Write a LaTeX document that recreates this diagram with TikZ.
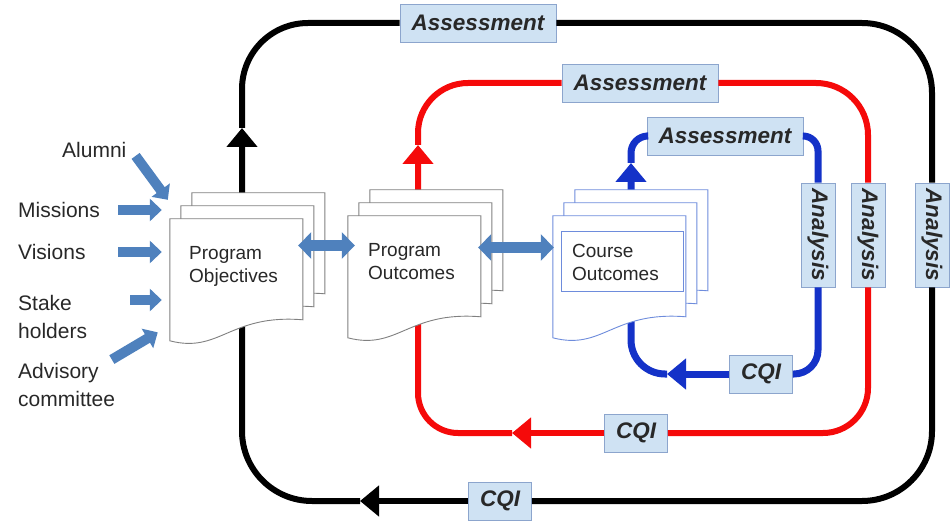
\documentclass[tikz,border=0pt]{standalone}
\usepackage{fontspec}
\setmainfont{Liberation Sans}
\usetikzlibrary{positioning,arrows.meta}

\definecolor{boxfill}{RGB}{207,226,243}
\definecolor{boxedge}{RGB}{140,165,205}
\definecolor{loopred}{RGB}{245,10,10}
\definecolor{loopblue}{RGB}{20,50,200}
\definecolor{pageblue}{RGB}{110,140,220}
\definecolor{steel}{RGB}{79,129,189}
\definecolor{inkgray}{RGB}{40,40,40}

\tikzset{
  tag/.style={draw=boxedge, fill=boxfill, line width=0.8pt, inner sep=0pt,
    text=inkgray, font=\fontsize{22.5}{26}\selectfont\bfseries\itshape},
  asmtag/.style={tag, minimum width=156pt, minimum height=38pt},
  cqitag/.style={tag, minimum width=63pt, minimum height=38pt},
  anatag/.style={tag, minimum width=34pt, minimum height=104pt},
  src/.style={align=left, anchor=west, inner sep=2pt, text=inkgray,
    font=\fontsize{21}{28}\selectfont},
  docnode/.style={minimum width=133pt, minimum height=123pt, inner sep=0pt},
  doctext/.style={align=left, anchor=west, inner sep=0pt, text=inkgray,
    font=\fontsize{19}{23}\selectfont},
  blackloop/.style={line width=6pt, black},
  redloop/.style={line width=6pt, loopred},
  blueloop/.style={line width=7pt, loopblue},
  looptip/.style={-{Triangle[width=30pt,length=19pt]}},
  inarrow/.style={line width=10pt, steel, -{Triangle[width=22pt,length=12pt]}},
  linkarrow/.style={line width=11pt, steel,
    {Triangle[width=26pt,length=13pt]}-{Triangle[width=26pt,length=13pt]}},
}

% one sheet of a stack, shifted by (#1,#2), outline colour #3
\newcommand{\docpage}[3]{%
  \draw[#3, fill=white, line width=0.9pt, shift={(#1,#2)}]
    (0,0) -- (133,0) -- (133,101) .. controls (60,95) and (50,135) .. (0,122) -- cycle;}
% three sheets behind the node #1
\newcommand{\docstack}[2]{%
  \begin{scope}[shift={(#1.north west)}]
    \docpage{22}{-26}{#2}
    \docpage{11}{-13}{#2}
    \docpage{0}{0}{#2}
  \end{scope}}

\begin{document}
\begin{tikzpicture}[x=1pt, y=-1pt]
  \useasboundingbox (0,0) rectangle (952,521);

  % Tags on the three loops
  \node[asmtag] (asmB) at (478,23) {Assessment};
  \node[asmtag] (asmR) at (640,83) {Assessment};
  \node[asmtag] (asmU) at (725,136) {Assessment};
  \node[anatag] (anaB) at (932,235) {\rotatebox{-90}{Analysis}};
  \node[anatag] (anaR) at (868,235) {\rotatebox{-90}{Analysis}};
  \node[anatag] (anaU) at (818,235) {\rotatebox{-90}{Analysis}};
  \node[cqitag] (cqiB) at (500,501) {CQI};
  \node[cqitag] (cqiR) at (636,433) {CQI};
  \node[cqitag] (cqiU) at (761,374) {CQI};

  % Documents
  \node[docnode] (objF) at (236.5,280.5) {};
  \node[docnode] (outF) at (414.5,277.5) {};
  \node[docnode] (crsF) at (619.5,277.5) {};

  % Arrow points on the loops
  \coordinate (bArrB) at (360,501);
  \coordinate (bArrL) at (242,128);
  \coordinate (rArrB) at (512,433);
  \coordinate (rArrL) at (418,145);
  \coordinate (uArrB) at (667,374);
  \coordinate (uArrT) at (631,163);

  % Black loop
  \draw[blackloop, rounded corners=70pt] (asmB.east) -| (anaB.north);
  \draw[blackloop, rounded corners=70pt] (anaB.south) |- (cqiB.east);
  \draw[blackloop, looptip] (cqiB.west) -- (bArrB);
  \draw[blackloop, looptip, rounded corners=70pt] (bArrB) -| (bArrL);
  \draw[blackloop, rounded corners=66pt] (bArrL) |- (asmB.west);

  % Red loop
  \draw[redloop, rounded corners=52pt] (asmR.east) -| (anaR.north);
  \draw[redloop, rounded corners=45pt] (anaR.south) |- (cqiR.east);
  \draw[redloop, looptip] (cqiR.west) -- (rArrB);
  \draw[redloop, looptip, rounded corners=40pt] (rArrB) -| (rArrL);
  \draw[redloop, rounded corners=50pt] (rArrL) |- (asmR.west);

  % Blue loop
  \draw[blueloop, rounded corners=15pt] (asmU.east) -| (anaU.north);
  \draw[blueloop, rounded corners=24pt] (anaU.south) |- (cqiU.east);
  \draw[blueloop, looptip] (cqiU.west) -- (uArrB);
  \draw[blueloop, looptip, rounded corners=34pt] (uArrB) -| (uArrT);
  \draw[blueloop, rounded corners=17pt] (uArrT) |- (asmU.west);

  % Sheets
  \docstack{objF}{gray}
  \docstack{outF}{gray}
  \docstack{crsF}{pageblue}
  \draw[pageblue, line width=0.9pt] ([shift={(9,16)}]crsF.north west) rectangle ++(122,60);

  \node[doctext] (objT) at (189,266) {Program\\Objectives};
  \node[doctext] (outT) at (368,262) {Program\\Outcomes};
  \node[doctext] (crsT) at (572,262) {Course\\Outcomes};

  % Inputs
  \node[src] (alu) at (60,150) {Alumni};
  \node[src] (mis) at (16,210) {Missions};
  \node[src] (vis) at (16,252) {Visions};
  \node[src] (stk) at (16,317) {Stake\\holders};
  \node[src] (adv) at (16,385) {Advisory\\committee};

  \draw[inarrow] ([xshift=7pt,yshift=4pt]alu.south east) -- ([xshift=-2pt,yshift=19pt]objF.north west);
  \draw[inarrow, shorten <=16pt, shorten >=8pt] (mis.east) -- (mis.east -| objF.west);
  \draw[inarrow, shorten <=16pt, shorten >=8pt] (vis.east -| mis.east) -- (vis.east -| objF.west);
  \draw[inarrow, shorten <=41pt, shorten >=8pt] ([yshift=17pt]stk.east) -- ([yshift=17pt]stk.east -| objF.west);
  \draw[inarrow, shorten <=3pt, shorten >=14pt] ([xshift=-8pt]adv.north east) -- ([yshift=17pt]objF.south west);

  % Links between documents
  \draw[linkarrow, shorten <=-5pt, shorten >=-7pt] ([yshift=35pt]objF.east) -- ([yshift=35pt]objF.east -| outF.west);
  \draw[linkarrow, shorten <=-3pt, shorten >=-1pt] ([yshift=30pt]outF.east) -- ([yshift=30pt]outF.east -| crsF.west);
\end{tikzpicture}
\end{document}
